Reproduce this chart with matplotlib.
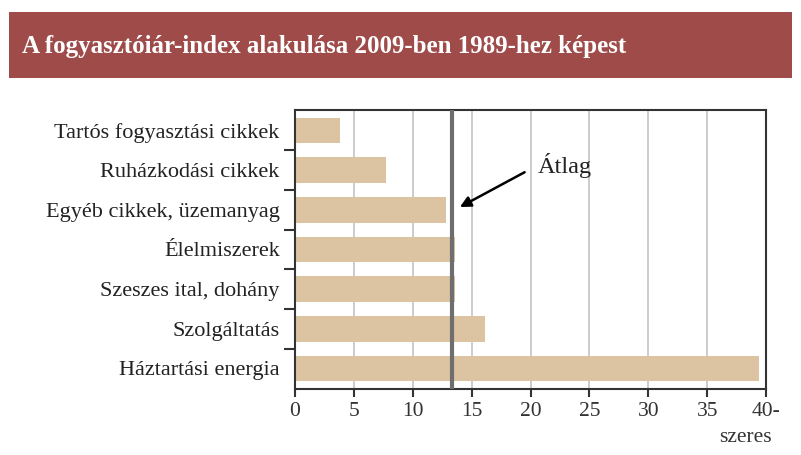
import matplotlib.pyplot as plt
from matplotlib.patches import Rectangle

# Adatok
kategoriak = ["Tartós fogyasztási cikkek", "Ruházkodási cikkek", "Egyéb cikkek, üzemanyag",
              "Élelmiszerek", "Szeszes ital, dohány", "Szolgáltatás", "Háztartási energia"]
ertekek = [3.8, 7.7, 12.8, 13.6, 13.6, 16.1, 39.4]
atlag = 13.3
x_ticks = [0, 5, 10, 15, 20, 25, 30, 35, 40]
x_labels = ["0", "5", "10", "15", "20", "25", "30", "35", "40-"]

plt.rcParams['font.family'] = ['Liberation Serif', 'DejaVu Serif']

fig = plt.figure(figsize=(8.01, 4.55), dpi=100)

# Cím sáv
fig.patches.append(Rectangle((9 / 801, 1 - 78 / 455), 783 / 801, 66 / 455,
                             transform=fig.transFigure, facecolor="#9e4b4a",
                             edgecolor="none", zorder=0))
fig.text(22 / 801, 1 - 46 / 455, "A fogyasztóiár-index alakulása 2009-ben 1989-hez képest",
         color="white", fontsize=18, fontweight="bold", va="center", ha="left")

ax = fig.add_axes([295 / 801, 1 - 389 / 455, 471 / 801, 279 / 455])
y = list(range(len(kategoriak)))
ax.barh(y, ertekek, height=0.65, color="#dcc3a2", zorder=2)
ax.axvline(atlag, color="#6e6e6e", lw=3, zorder=3)

ax.set_xlim(0, 40)
ax.set_ylim(6.52, -0.52)
ax.set_xticks(x_ticks)
ax.set_xticklabels(x_labels, fontsize=15.5, color="#333333")
ax.set_yticks(y)
ax.set_yticklabels(kategoriak, fontsize=16, color="#222222")
ax.tick_params(axis="y", length=0, pad=11)
ax.set_yticks([i + 0.5 for i in range(len(kategoriak) - 1)], minor=True)
ax.tick_params(axis="y", which="minor", length=8, width=1.5, color="#333333")
ax.tick_params(axis="x", length=6, width=1.5, color="#333333", pad=3)
ax.grid(axis="x", color="#c8c8c8", lw=1.3, zorder=1)
for s in ax.spines.values():
    s.set_color("#333333")
    s.set_linewidth(1.5)

ax.annotate("", xy=(14.0, 1.93), xytext=(19.5, 1.05),
            arrowprops=dict(arrowstyle="-|>", color="black", lw=1.8,
                            shrinkB=0, shrinkA=0, mutation_scale=16))
ax.text(20.6, 0.87, "Átlag", fontsize=17.5, color="#222222", ha="left", va="center")
fig.text(772 / 801, 1 - 438 / 455, "szeres", fontsize=15.5, color="#333333",
         ha="right", va="center")

fig.savefig("out.png", dpi=100)
